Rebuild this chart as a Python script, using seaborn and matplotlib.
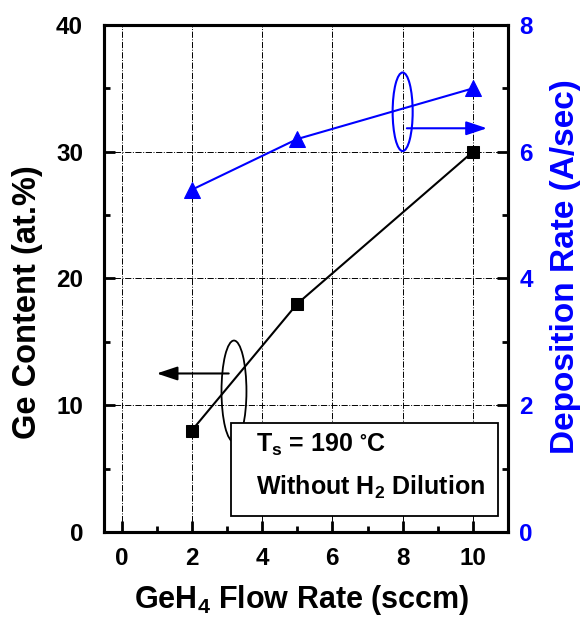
import pandas as pd
import matplotlib.pyplot as plt
import seaborn as sns
from matplotlib.patches import Ellipse, Rectangle
from matplotlib.ticker import MultipleLocator

# --- data ---
flow_rate = [2, 5, 10]              # GeH4 flow rate (sccm)
ge_content = [8, 18, 30]            # Ge content (at.%)
dep_rate = [5.4, 6.2, 7.0]          # deposition rate (A/sec)

x_ticks = [0, 2, 4, 6, 8, 10]
left_ticks = [0, 10, 20, 30, 40]
right_ticks = [0, 2, 4, 6, 8]

df_ge = pd.DataFrame({'flow': flow_rate, 'ge': ge_content})
df_rate = pd.DataFrame({'flow': flow_rate, 'rate': dep_rate})

sns.set_style('ticks', {'axes.edgecolor': 'black', 'text.color': 'black',
                        'axes.labelcolor': 'black', 'xtick.color': 'black',
                        'ytick.color': 'black'})
plt.rcParams['font.family'] = ['Liberation Sans', 'DejaVu Sans']
plt.rcParams['font.weight'] = 'bold'
plt.rcParams['mathtext.default'] = 'regular'

BLUE = '#0000ff'

fig, ax = plt.subplots(figsize=(5.84, 6.25), dpi=100)
fig.subplots_adjust(left=0.178, right=0.870, top=0.96, bottom=0.149)

# Ge content (left axis)
sns.lineplot(data=df_ge, x='flow', y='ge', ax=ax, color='black', lw=1.5,
             marker='s', markersize=9, markeredgecolor='black', zorder=4)

ax.set_xlim(-0.5, 11)
ax.set_ylim(0, 40)
ax.set_xticks(x_ticks)
ax.set_yticks(left_ticks)
ax.xaxis.set_minor_locator(MultipleLocator(1))
ax.yaxis.set_minor_locator(MultipleLocator(5))
ax.grid(True, which='major', color='black', ls='-.', lw=0.7)
ax.tick_params(axis='both', which='major', direction='in', length=8, width=2,
               labelsize=17.5, color='black', labelcolor='black')
ax.tick_params(axis='both', which='minor', direction='in', length=4.5, width=2)
ax.tick_params(axis='x', pad=11)
ax.tick_params(axis='y', pad=15)
for lab in ax.get_xticklabels() + ax.get_yticklabels():
    lab.set_fontweight('bold')
for sp in ax.spines.values():
    sp.set_linewidth(2.2)

ax.set_xlabel('GeH$_4$ Flow Rate (sccm)', fontsize=22, fontweight='bold',
              va='center', color='black')
ax.xaxis.set_label_coords(0.489, -0.135)
ax.set_ylabel('Ge Content (at.%)', fontsize=23.5, fontweight='bold',
              va='center', color='black')
ax.yaxis.set_label_coords(-0.188, 0.454)

# black ellipse + arrow pointing to left axis
ax.add_patch(Ellipse((3.2, 11.1), 0.71, 8.0, fill=False, ec='black', lw=1.3, zorder=3))
ax.annotate('', xy=(1.0, 12.5), xytext=(3.05, 12.5),
            arrowprops=dict(arrowstyle='-|>,head_length=0.9,head_width=0.3',
                            color='black', lw=1.5, mutation_scale=14,
                            shrinkA=0, shrinkB=0), zorder=3)

# deposition rate (right axis)
ax2 = ax.twinx()
sns.lineplot(data=df_rate, x='flow', y='rate', ax=ax2, color=BLUE, lw=1.5,
             marker='^', markersize=11, markeredgecolor=BLUE, zorder=4)
ax2.set_ylim(0, 8)
ax2.set_yticks(right_ticks)
ax2.yaxis.set_minor_locator(MultipleLocator(1))
ax2.tick_params(axis='y', which='major', direction='in', length=8, width=2,
                labelsize=17.5, labelcolor=BLUE, color='black', pad=8)
ax2.tick_params(axis='y', which='minor', direction='in', length=4.5, width=2)
for lab in ax2.get_yticklabels():
    lab.set_fontweight('bold')
for sp in ax2.spines.values():
    sp.set_linewidth(2.2)
ax2.set_ylabel('Deposition Rate (A/sec)', fontsize=24, fontweight='bold',
               color=BLUE, va='center', rotation=90)
ax2.yaxis.set_label_coords(1.141, 0.523)

# blue ellipse + arrow pointing to right axis
ax2.add_patch(Ellipse((8.0, 6.63), 0.57, 1.24, fill=False, ec=BLUE, lw=1.5, zorder=3))
ax2.annotate('', xy=(10.4, 6.37), xytext=(8.12, 6.37),
             arrowprops=dict(arrowstyle='-|>,head_length=0.9,head_width=0.3',
                             color=BLUE, lw=1.5, mutation_scale=14,
                             shrinkA=0, shrinkB=0), zorder=3)

# condition box
ax2.add_patch(Rectangle((0.314, 0.032), 0.661, 0.183, transform=ax2.transAxes,
                        facecolor='white', edgecolor='black', lw=1.3, zorder=5))
ax2.text(0.376, 0.172, 'T$_s$ = 190 $^{\\circ}$C', transform=ax2.transAxes,
         fontsize=18, fontweight='bold', va='center', ha='left', zorder=6)
ax2.text(0.376, 0.087, 'Without H$_2$ Dilution', transform=ax2.transAxes,
         fontsize=18, fontweight='bold', va='center', ha='left', zorder=6)

fig.savefig('out.png', dpi=100)
plt.close(fig)
